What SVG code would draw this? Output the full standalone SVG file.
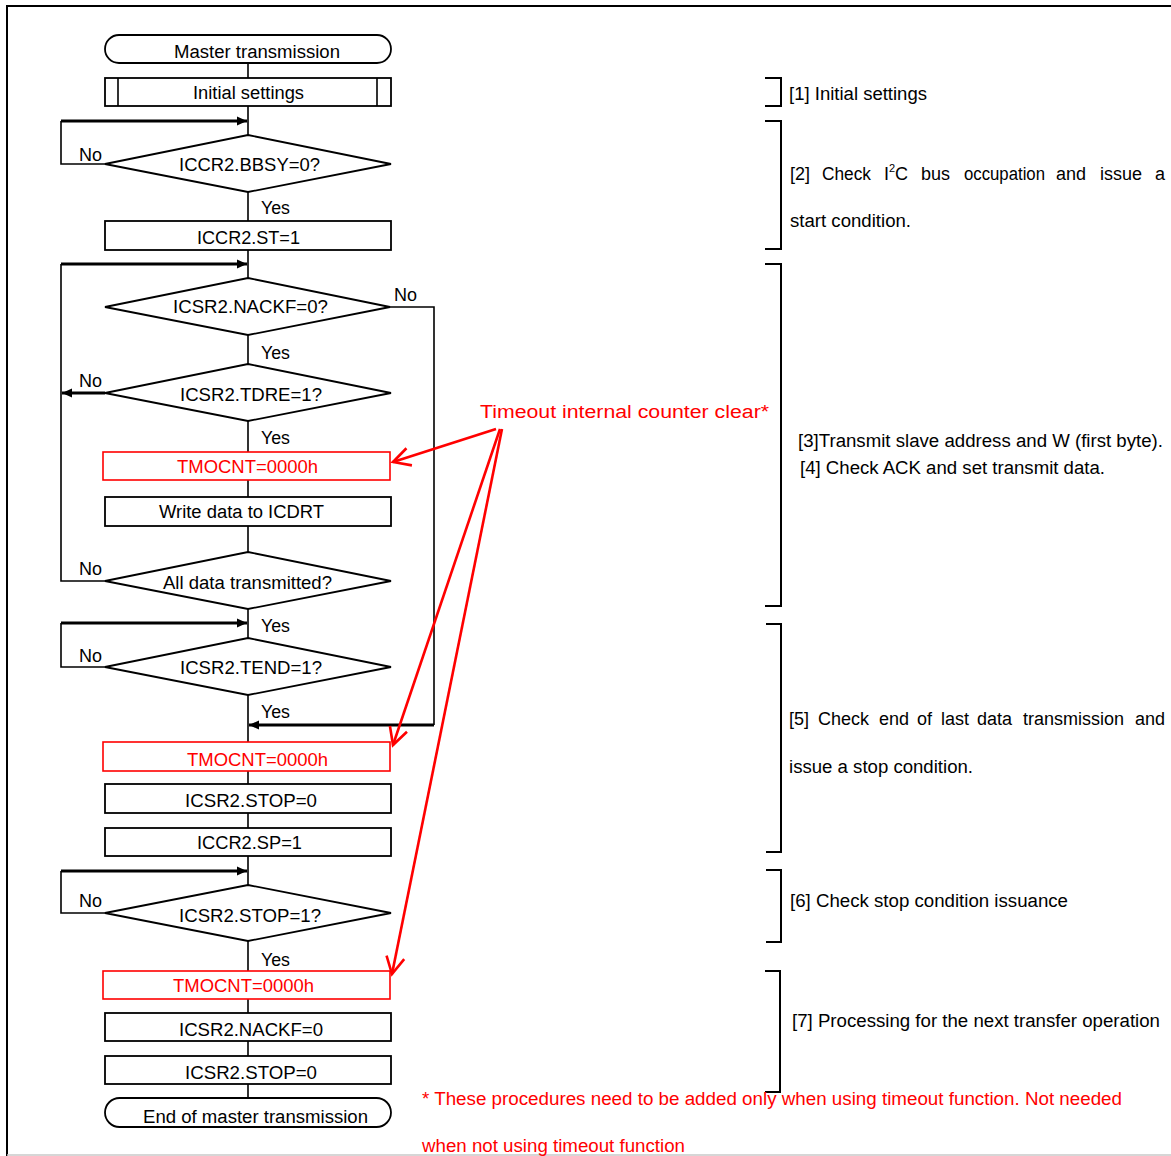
<svg xmlns="http://www.w3.org/2000/svg" width="1171" height="1156" viewBox="0 0 1171 1156">
<style>
text{font-family:"Liberation Sans",Arial,sans-serif;font-size:18px;fill:#000}
.red{fill:#ff0000}
.sup{font-size:11px}
.box{fill:#fff;stroke:#000;stroke-width:1.8}
.rbox{fill:#fff;stroke:#ff0000;stroke-width:1.6}
.ln{fill:none;stroke:#000;stroke-width:1.6}
.thick{fill:none;stroke:#000;stroke-width:3}
.br{fill:none;stroke:#000;stroke-width:2}
.rl{fill:none;stroke:#ff0000;stroke-width:2.6}
</style>
<defs>
<marker id="ah" markerUnits="userSpaceOnUse" markerWidth="12" markerHeight="10" refX="10" refY="5" orient="auto" overflow="visible">
<path d="M0,0.5 L10,5 L0,9.5 z" fill="#000"/>
</marker>
<marker id="rah" markerUnits="userSpaceOnUse" markerWidth="20" markerHeight="20" refX="0" refY="0" orient="auto" overflow="visible">
<path d="M-17,-9 L0,0 L-17,9" fill="none" stroke="#ff0000" stroke-width="2.6"/>
</marker>
</defs>
<rect width="1171" height="1156" fill="#fff"/>
<g id="frame">
<path d="M7,1156 V6 H1171" fill="none" stroke="#000" stroke-width="2"/>
<line x1="7" y1="1155" x2="1171" y2="1155" stroke="#c8c8c8" stroke-width="1.5"/>
</g>
<g id="connectors">
<path class="ln" d="M248,63V78 M248,106V135 M248,192V221 M248,250V278 M248,335V364 M248,421V452 M248,480V497 M248,526V552 M248,609V638 M248,695V742 M248,771V784 M248,813V828 M248,856V885 M248,941V971 M248,999V1013 M248,1041V1056 M248,1084V1098"/>
<path class="ln" d="M105,164H61V121"/>
<path class="thick" d="M61,121H247" marker-end="url(#ah)"/>
<path class="ln" d="M105,581H61V264"/>
<path class="thick" d="M61,264H247" marker-end="url(#ah)"/>
<path class="thick" d="M105,393H62" marker-end="url(#ah)"/>
<path class="ln" d="M390,307H434V725"/>
<path class="thick" d="M434,725H249" marker-end="url(#ah)"/>
<path class="ln" d="M105,667H61V623"/>
<path class="thick" d="M61,623H247" marker-end="url(#ah)"/>
<path class="ln" d="M105,913H61V871"/>
<path class="thick" d="M61,871H247" marker-end="url(#ah)"/>
<text x="79" y="161" textLength="23" lengthAdjust="spacingAndGlyphs">No</text>
<text x="261" y="214" textLength="29" lengthAdjust="spacingAndGlyphs">Yes</text>
<text x="394" y="301" textLength="23" lengthAdjust="spacingAndGlyphs">No</text>
<text x="261" y="359" textLength="29" lengthAdjust="spacingAndGlyphs">Yes</text>
<text x="79" y="387" textLength="23" lengthAdjust="spacingAndGlyphs">No</text>
<text x="261" y="444" textLength="29" lengthAdjust="spacingAndGlyphs">Yes</text>
<text x="79" y="575" textLength="23" lengthAdjust="spacingAndGlyphs">No</text>
<text x="261" y="632" textLength="29" lengthAdjust="spacingAndGlyphs">Yes</text>
<text x="79" y="662" textLength="23" lengthAdjust="spacingAndGlyphs">No</text>
<text x="261" y="718" textLength="29" lengthAdjust="spacingAndGlyphs">Yes</text>
<text x="79" y="907" textLength="23" lengthAdjust="spacingAndGlyphs">No</text>
<text x="261" y="966" textLength="29" lengthAdjust="spacingAndGlyphs">Yes</text>
</g>
<g id="n_start">
<rect class="box" x="105" y="35" width="286" height="28" rx="14"/>
<text x="174" y="58" textLength="166" lengthAdjust="spacingAndGlyphs">Master transmission</text>
</g>
<g id="n_init">
<rect class="box" x="105" y="78" width="286" height="28"/>
<path class="ln" d="M118,78V106 M377,78V106"/>
<text x="193" y="99" textLength="111" lengthAdjust="spacingAndGlyphs">Initial settings</text>
</g>
<g id="n_bbsy">
<path class="box" d="M248,135 L391,164 L248,192 L105,164 z"/>
<text x="179" y="171" textLength="141" lengthAdjust="spacingAndGlyphs">ICCR2.BBSY=0?</text>
</g>
<g id="n_st">
<rect class="box" x="105" y="221" width="286" height="29"/>
<text x="197" y="244" textLength="103" lengthAdjust="spacingAndGlyphs">ICCR2.ST=1</text>
</g>
<g id="n_nackf">
<path class="box" d="M248,278 L390,307 L248,335 L105,307 z"/>
<text x="173" y="313" textLength="155" lengthAdjust="spacingAndGlyphs">ICSR2.NACKF=0?</text>
</g>
<g id="n_tdre">
<path class="box" d="M248,364 L391,393 L248,421 L105,393 z"/>
<text x="180" y="401" textLength="142" lengthAdjust="spacingAndGlyphs">ICSR2.TDRE=1?</text>
</g>
<g id="n_tmo1">
<rect class="rbox" x="103" y="452" width="287" height="28"/>
<text class="red" x="177" y="473" textLength="141" lengthAdjust="spacingAndGlyphs">TMOCNT=0000h</text>
</g>
<g id="n_write">
<rect class="box" x="105" y="497" width="286" height="29"/>
<text x="159" y="518" textLength="165" lengthAdjust="spacingAndGlyphs">Write data to ICDRT</text>
</g>
<g id="n_alldata">
<path class="box" d="M248,552 L391,581 L248,609 L105,581 z"/>
<text x="163" y="589" textLength="169" lengthAdjust="spacingAndGlyphs">All data transmitted?</text>
</g>
<g id="n_tend">
<path class="box" d="M248,638 L391,667 L248,695 L105,667 z"/>
<text x="180" y="674" textLength="142" lengthAdjust="spacingAndGlyphs">ICSR2.TEND=1?</text>
</g>
<g id="n_tmo2">
<rect class="rbox" x="103" y="742" width="287" height="29"/>
<text class="red" x="187" y="766" textLength="141" lengthAdjust="spacingAndGlyphs">TMOCNT=0000h</text>
</g>
<g id="n_stop0a">
<rect class="box" x="105" y="784" width="286" height="29"/>
<text x="185" y="807" textLength="132" lengthAdjust="spacingAndGlyphs">ICSR2.STOP=0</text>
</g>
<g id="n_sp">
<rect class="box" x="105" y="828" width="286" height="28"/>
<text x="197" y="849" textLength="105" lengthAdjust="spacingAndGlyphs">ICCR2.SP=1</text>
</g>
<g id="n_stop1">
<path class="box" d="M248,885 L391,913 L248,941 L105,913 z"/>
<text x="179" y="922" textLength="142" lengthAdjust="spacingAndGlyphs">ICSR2.STOP=1?</text>
</g>
<g id="n_tmo3">
<rect class="rbox" x="103" y="971" width="287" height="28"/>
<text class="red" x="173" y="992" textLength="141" lengthAdjust="spacingAndGlyphs">TMOCNT=0000h</text>
</g>
<g id="n_nackf0">
<rect class="box" x="105" y="1013" width="286" height="28"/>
<text x="179" y="1036" textLength="144" lengthAdjust="spacingAndGlyphs">ICSR2.NACKF=0</text>
</g>
<g id="n_stop0b">
<rect class="box" x="105" y="1056" width="286" height="28"/>
<text x="185" y="1079" textLength="132" lengthAdjust="spacingAndGlyphs">ICSR2.STOP=0</text>
</g>
<g id="n_end">
<rect class="box" x="105" y="1098" width="286" height="29" rx="14.5"/>
<text x="143" y="1123" textLength="225" lengthAdjust="spacingAndGlyphs">End of master transmission</text>
</g>
<g id="annot_timeout">
<text class="red" x="480" y="418" font-size="20" textLength="289" lengthAdjust="spacingAndGlyphs">Timeout internal counter clear*</text>
<line class="rl" x1="496" y1="429" x2="393" y2="462" marker-end="url(#rah)"/>
<line class="rl" x1="500" y1="429" x2="393" y2="745" marker-end="url(#rah)"/>
<line class="rl" x1="502" y1="429" x2="392" y2="974" marker-end="url(#rah)"/>
</g>
<g id="steps">
<path class="br" d="M765,78H781V106H765"/>
<path class="br" d="M765,121H781V249H765"/>
<path class="br" d="M765,264H781V606H765"/>
<path class="br" d="M766,624H781V852H766"/>
<path class="br" d="M766,870H781V942H766"/>
<path class="br" d="M765,971H780V1092H765"/>
<text x="789" y="100" textLength="138" lengthAdjust="spacingAndGlyphs">[1] Initial settings</text>
<text x="790" y="180">[2]</text>
<text x="822" y="180" textLength="49" lengthAdjust="spacingAndGlyphs">Check</text>
<text x="884" y="180">I</text>
<text class="sup" x="889" y="172">2</text>
<text x="895" y="180">C</text>
<text x="921" y="180">bus</text>
<text x="964" y="180" textLength="81" lengthAdjust="spacingAndGlyphs">occupation</text>
<text x="1056" y="180">and</text>
<text x="1100" y="180">issue</text>
<text x="1155" y="180">a</text>
<text x="790" y="227" textLength="121" lengthAdjust="spacingAndGlyphs">start condition.</text>
<text x="798" y="447" textLength="365" lengthAdjust="spacingAndGlyphs">[3]Transmit slave address and W (first byte).</text>
<text x="800" y="474" textLength="305" lengthAdjust="spacingAndGlyphs">[4] Check ACK and set transmit data.</text>
<text x="789" y="725">[5]</text>
<text x="818" y="725">Check</text>
<text x="879" y="725">end</text>
<text x="917" y="725">of</text>
<text x="941" y="725">last</text>
<text x="977" y="725">data</text>
<text x="1023" y="725">transmission</text>
<text x="1135" y="725">and</text>
<text x="789" y="773" textLength="184" lengthAdjust="spacingAndGlyphs">issue a stop condition.</text>
<text x="790" y="907" textLength="278" lengthAdjust="spacingAndGlyphs">[6] Check stop condition issuance</text>
<text x="792" y="1027" textLength="368" lengthAdjust="spacingAndGlyphs">[7] Processing for the next transfer operation</text>
</g>
<g id="footnote">
<text class="red" x="422" y="1105" textLength="700" lengthAdjust="spacingAndGlyphs">* These procedures need to be added only when using timeout function. Not needed</text>
<text class="red" x="422" y="1152" textLength="263" lengthAdjust="spacingAndGlyphs">when not using timeout function</text>
</g>
</svg>
